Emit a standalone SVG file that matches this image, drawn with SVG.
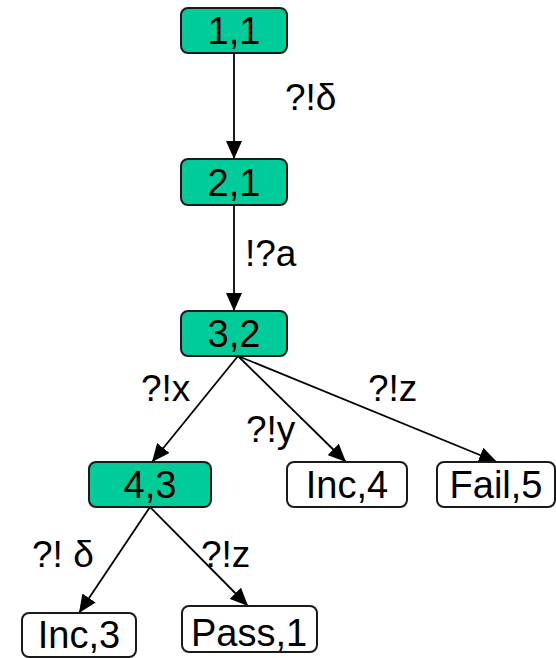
<svg xmlns="http://www.w3.org/2000/svg" width="556" height="658" viewBox="0 0 556 658">
<style>
.n rect{stroke:#1a1a1a;stroke-width:2}
.g rect{fill:#00cc99}
.w rect{fill:#ffffff}
text{font-family:"Liberation Sans",Arial,sans-serif;font-size:37px;fill:#000}
.n text{text-anchor:middle;font-size:38px}
.c line{stroke:#000;stroke-width:1.8;marker-end:url(#ah)}
</style>
<defs>
<marker id="ah" markerUnits="userSpaceOnUse" markerWidth="18" markerHeight="16" refX="18" refY="8" orient="auto">
<path d="M0,0 L18,8 L0,16 z" fill="#000"/>
</marker>
</defs>
<rect width="556" height="658" fill="#fff"/>
<g class="c" id="connectors">
<line x1="234" y1="53" x2="234" y2="159"/>
<line x1="234" y1="205" x2="234" y2="311"/>
<line x1="238" y1="356" x2="152" y2="462"/>
<line x1="238" y1="356" x2="346" y2="462"/>
<line x1="238" y1="356" x2="497" y2="462"/>
<line x1="150" y1="507" x2="79" y2="613"/>
<line x1="150" y1="507" x2="248" y2="606"/>
</g>
<g id="labels">
<text x="285" y="110">?!δ</text>
<text x="245" y="266">!?a</text>
<text x="141" y="401">?!x</text>
<text x="246" y="442">?!y</text>
<text x="368" y="401">?!z</text>
<text x="32" y="567">?! δ</text>
<text x="201" y="567">?!z</text>
</g>
<g id="n11" class="n g"><rect x="181" y="8" width="106" height="45" rx="7"/><text x="234" y="44">1,1</text></g>
<g id="n21" class="n g"><rect x="181" y="159" width="106" height="46" rx="7"/><text x="234" y="196">2,1</text></g>
<g id="n32" class="n g"><rect x="181" y="311" width="106" height="45" rx="7"/><text x="234" y="347">3,2</text></g>
<g id="n43" class="n g"><rect x="89" y="462" width="122" height="45" rx="7"/><text x="150" y="498">4,3</text></g>
<g id="inc4" class="n w"><rect x="287" y="462" width="120" height="45" rx="7"/><text x="347" y="498">Inc,4</text></g>
<g id="fail5" class="n w"><rect x="437" y="462" width="118" height="45" rx="7"/><text x="496" y="498">Fail,5</text></g>
<g id="inc3" class="n w"><rect x="22" y="613" width="114" height="44" rx="7"/><text x="79" y="648">Inc,3</text></g>
<g id="pass1" class="n w"><rect x="182" y="606" width="135" height="46" rx="7"/><text x="249" y="646">Pass,1</text></g>
</svg>
